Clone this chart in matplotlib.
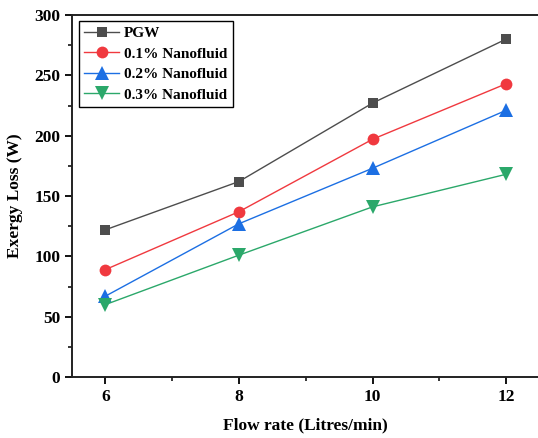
import matplotlib.pyplot as plt
from matplotlib.ticker import MultipleLocator

plt.rcParams["font.family"] = ["Liberation Serif", "DejaVu Serif"]
plt.rcParams["font.weight"] = "bold"

flow_rate = [6, 8, 10, 12]
pgw = [122, 162, 227, 280]
nano_01 = [89, 137, 197, 243]
nano_02 = [67, 127, 173, 221]
nano_03 = [60, 101, 141, 168]

SERIES = [
    ("PGW", pgw, "#4d4d4d", "s", 7.5),
    ("0.1% Nanofluid", nano_01, "#f0393f", "o", 8.5),
    ("0.2% Nanofluid", nano_02, "#1c6fe3", "^", 9.5),
    ("0.3% Nanofluid", nano_03, "#2ba86a", "v", 9.5),
]

fig = plt.figure(figsize=(5.38, 4.38), dpi=100)
ax = fig.add_axes([72 / 538, 61 / 438, 467.5 / 538, 362 / 438])

for label, y, color, marker, ms in SERIES:
    ax.plot(flow_rate, y, marker=marker, color=color, label=label,
            linewidth=1, markersize=ms, markeredgewidth=0)

ax.set_xlim(5.5, 12.5)
ax.set_ylim(0, 300)
ax.xaxis.set_major_locator(MultipleLocator(2))
ax.xaxis.set_minor_locator(MultipleLocator(1))
ax.yaxis.set_major_locator(MultipleLocator(50))
ax.yaxis.set_minor_locator(MultipleLocator(25))
ax.tick_params(which="major", direction="out", length=5, width=1.3, labelsize=12.5)
ax.tick_params(which="minor", direction="out", length=3, width=1.1)
for lab in ax.get_xticklabels() + ax.get_yticklabels():
    lab.set_fontweight("bold")
for side in ["left", "bottom", "top", "right"]:
    ax.spines[side].set_linewidth(1.4)
    ax.spines[side].set_color("#222222")

ax.set_xlabel("Flow rate (Litres/min)", fontsize=12.5, fontweight="bold", labelpad=9)
ax.set_ylabel("Exergy Loss (W)", fontsize=12.5, fontweight="bold", labelpad=8)

leg = ax.legend(loc="upper left", bbox_to_anchor=(7 / 467.5, 1 - 6 / 362), fontsize=11,
                fancybox=False, edgecolor="black", framealpha=1, borderaxespad=0,
                handlelength=2.3, borderpad=0.35, labelspacing=0.45, handletextpad=0.3)
leg.get_frame().set_linewidth(1.0)
for t in leg.get_texts():
    t.set_fontweight("bold")

fig.savefig("out.png", dpi=100)
